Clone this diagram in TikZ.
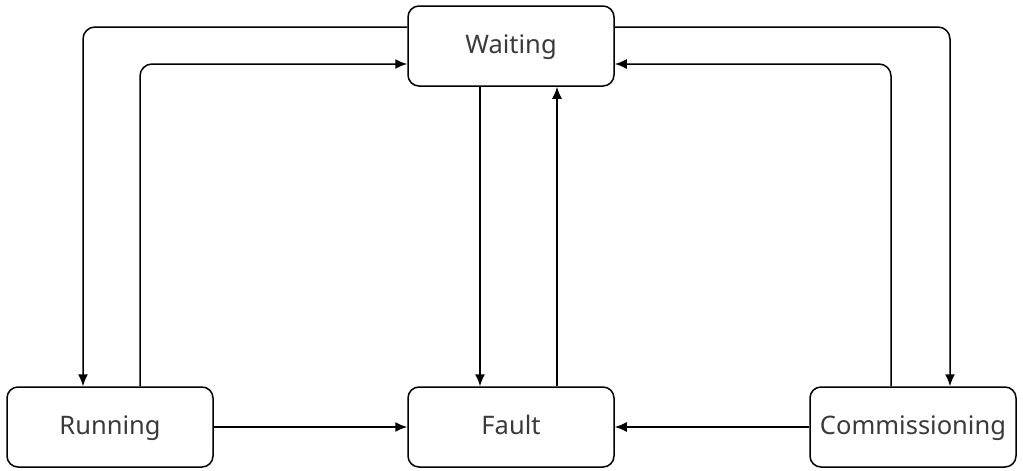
\documentclass[tikz,border=0pt]{standalone}
\usepackage{fontspec}
\setmainfont{Noto Sans}
\usetikzlibrary{arrows.meta}
\definecolor{txtgray}{HTML}{3A3A3A}
\tikzstyle{state} = [rectangle, rounded corners=11pt, minimum width=206pt, minimum height=80pt, text centered, text height=19pt, text depth=5pt, draw=black, line width=1.5pt, text=txtgray, font=\fontsize{25.5}{30}\selectfont]
\tikzstyle{flow} = [line width=1.5pt, rounded corners=12pt, -{Latex[length=12pt,width=10pt]}]

\begin{document}
\begin{tikzpicture}[x=1pt, y=-1pt, node distance=381pt]
      \useasboundingbox (0,0) rectangle (1023,471);
      \node (waiting) [state] at (511,46) {Waiting};
      \node (fault) [state, below of=waiting] {Fault};
      \node (running) [state, left of=fault, node distance=401pt] {Running};
      \node (commissioning) [state, right of=fault, node distance=402pt] {Commissioning};

      \draw [flow] ([yshift=19pt]waiting.west) -| ([xshift=-27pt]running.north);
      \draw [flow] ([xshift=30pt]running.north) |- ([yshift=-18pt]waiting.west);
      \draw [flow] ([xshift=-31pt]waiting.south) -- ([xshift=-31pt]fault.north);
      \draw [flow] ([xshift=46pt]fault.north) -- ([xshift=46pt]waiting.south);
      \draw [flow] ([yshift=19pt]waiting.east) -| ([xshift=37pt]commissioning.north);
      \draw [flow] ([xshift=-22pt]commissioning.north) |- ([yshift=-18pt]waiting.east);
      \draw [flow] (running.east) -- (fault.west);
      \draw [flow] (commissioning.west) -- (fault.east);
    \end{tikzpicture}
\end{document}
